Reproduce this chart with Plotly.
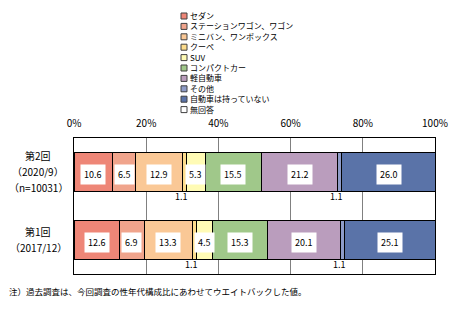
import plotly.graph_objects as go

categories = ["第2回<br>（2020/9）<br>（n=10031）", "第1回<br>（2017/12）"]
series_names = ["セダン", "ステーションワゴン、ワゴン", "ミニバン、ワンボックス", "クーペ", "SUV",
                "コンパクトカー", "軽自動車", "その他", "自動車は持っていない", "無回答"]
values_2020 = [10.6, 6.5, 12.9, 1.1, 5.3, 15.5, 21.2, 1.1, 26.0, 0.0]
values_2017 = [12.6, 6.9, 13.3, 1.1, 4.5, 15.3, 20.1, 1.1, 25.1, 0.0]
colors = ["#EE8677", "#F0A48C", "#FAC896", "#FCDC8C", "#FFFBB5",
          "#A0C88A", "#BA9DBD", "#8E9CC8", "#5A73A8", "#FFFFFF"]
tick_vals = [0, 20, 40, 60, 80, 100]
tick_text = ["0%", "20%", "40%", "60%", "80%", "100%"]
note = "注）過去調査は、今回調査の性年代構成比にあわせてウエイトバックした値。"

FONT = "Noto Sans CJK JP"
W, H = 460, 322
L, R, T, B = 74, 25, 138, 48
PW, PH = W - L - R, H - T - B

fig = go.Figure()
for i, name in enumerate(series_names):
    fig.add_trace(go.Bar(
        y=categories, x=[values_2020[i], values_2017[i]], name=name, orientation="h",
        marker=dict(color=colors[i], line=dict(color="#000000", width=1)),
        showlegend=False, hoverinfo="x+name"))

annotations = []
for cat, vals in zip(categories, [values_2020, values_2017]):
    cum = 0
    for v in vals:
        mid = cum + v / 2
        cum += v
        if v <= 0:
            continue
        if v >= 3:
            annotations.append(dict(x=mid, y=cat, xref="x", yref="y", text=f"{v:.1f}",
                                    showarrow=False, bgcolor="#FFFFFF", borderpad=3,
                                    font=dict(family=FONT, size=9, color="#000"), yshift=-2))
        else:
            annotations.append(dict(x=mid - 0.8, y=cat, xref="x", yref="y", text=f"{v:.1f}",
                                    showarrow=False, font=dict(family=FONT, size=9, color="#000"),
                                    yshift=-24))

def px_x(p):
    return (p - L) / PW

def px_y(p):
    return (H - B - p) / PH

# category labels, centred left of the plot, one annotation per line
for cat in categories:
    lines = cat.split("<br>")
    n = len(lines)
    for k, line in enumerate(lines):
        annotations.append(dict(x=px_x(38), y=cat, xref="paper", yref="y", text=line,
                                showarrow=False, xanchor="center", yanchor="middle",
                                yshift=-(k - (n - 1) / 2) * 16 + 1,
                                font=dict(family=FONT, size=10, color="#000")))

# hand-drawn compact legend (plotly's legend rows are too tall)
LEG_FS = 8
step = 1.3 * LEG_FS
top = 16
shapes = []
for i, name in enumerate(series_names):
    cy = top + i * step
    shapes.append(dict(type="rect", xref="paper", yref="paper",
                       x0=px_x(181), x1=px_x(187), y0=px_y(cy + 3), y1=px_y(cy - 3),
                       fillcolor=colors[i], line=dict(color="#404040", width=1)))
annotations.append(dict(x=px_x(188), y=px_y(top + 4.5 * step), xref="paper", yref="paper",
                        text="<br>".join(series_names), showarrow=False,
                        xanchor="left", yanchor="middle", align="left",
                        font=dict(family=FONT, size=LEG_FS, color="#000")))

annotations.append(dict(x=px_x(7), y=px_y(291), xref="paper", yref="paper", text=note,
                        showarrow=False, xanchor="left", yanchor="middle",
                        font=dict(family=FONT, size=8.5, color="#000")))

fig.update_layout(
    width=W, height=H, margin=dict(l=L, r=R, t=T, b=B),
    barmode="stack", bargap=0.42,
    plot_bgcolor="#FFFFFF", paper_bgcolor="#FFFFFF",
    font=dict(family=FONT, size=10, color="#000"),
    xaxis=dict(side="top", range=[0, 100], tickvals=tick_vals, ticktext=tick_text,
               showgrid=True, gridcolor="#808080", gridwidth=1, zeroline=False,
               showline=True, linecolor="#000", linewidth=1, mirror=True, ticks="",
               ticklabelstandoff=6, tickfont=dict(family=FONT, size=10)),
    yaxis=dict(categoryorder="array", categoryarray=categories, autorange="reversed",
               showline=True, linecolor="#000", linewidth=1, mirror=True, ticks="",
               showticklabels=False, showgrid=False),
    annotations=annotations, shapes=shapes,
)

fig.write_html("out.html")
